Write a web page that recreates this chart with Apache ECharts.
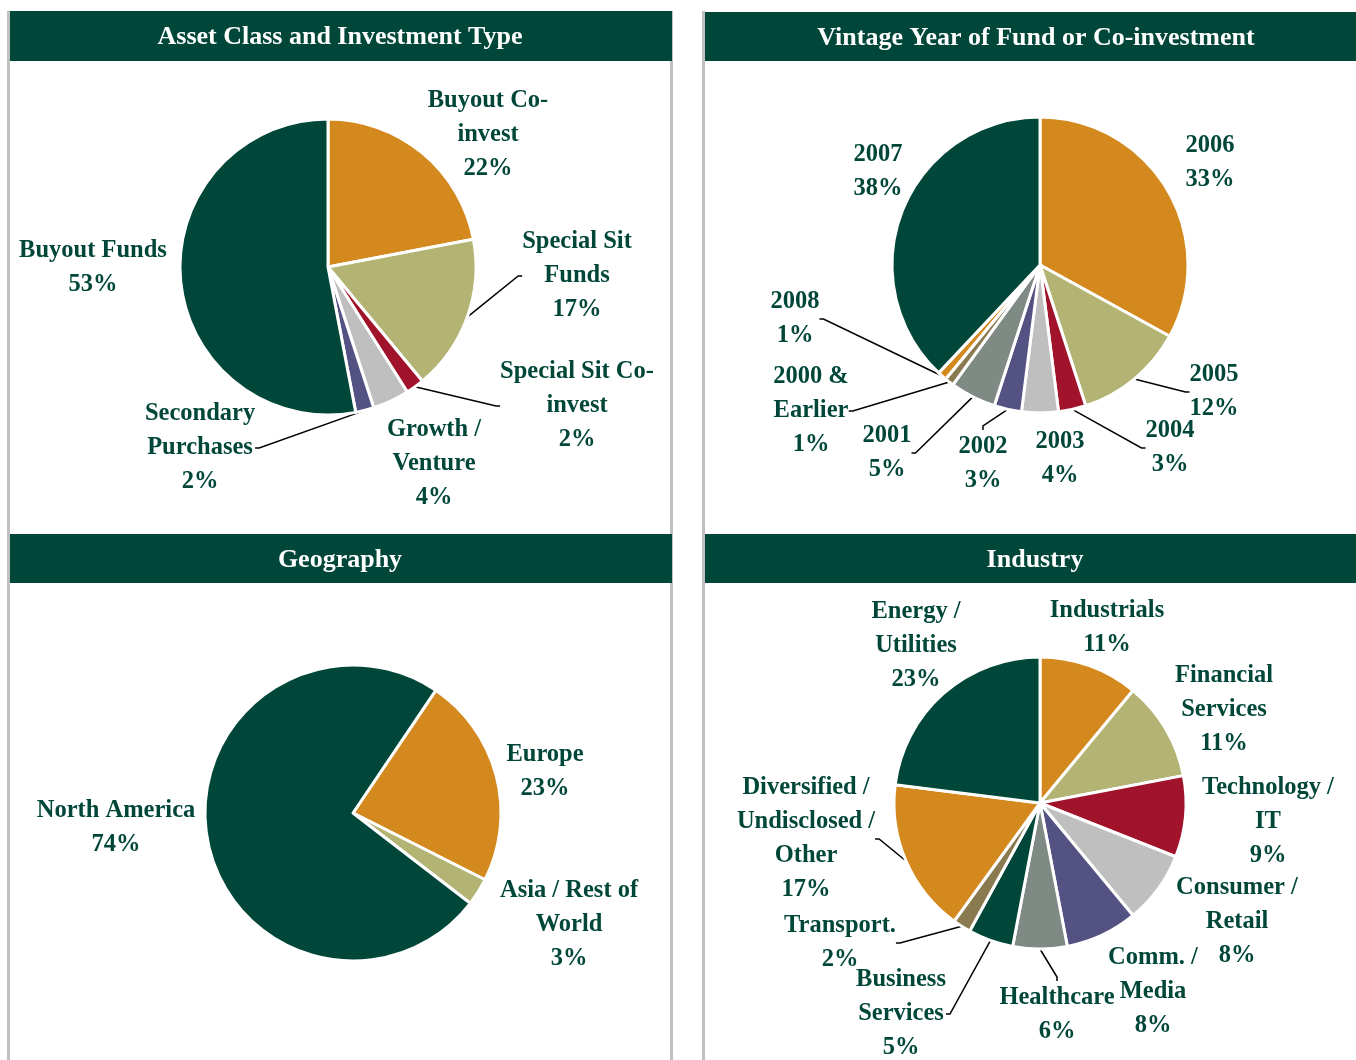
<!DOCTYPE html>
<html>
<head>
<meta charset="utf-8">
<script src="https://cdn.jsdelivr.net/npm/echarts@6/dist/echarts.min.js"></script>
<style>
  html, body { margin: 0; padding: 0; background: #fff; }
  #chart { width: 1356px; height: 1060px; }
</style>
</head>
<body>
<div id="chart"></div>
<script>
// panel titles
const panelTitles = ['Asset Class and Investment Type', 'Vintage Year of Fund or Co-investment', 'Geography', 'Industry'];

// asset class / investment type (clockwise from 12 o'clock)
const assetNames = ['Buyout Co-\ninvest', 'Special Sit\nFunds', 'Special Sit Co-\ninvest', 'Growth /\nVenture', 'Secondary\nPurchases', 'Buyout Funds'];
const assetValues = [22, 17, 2, 4, 2, 53];

// vintage year
const vintageNames = ['2006', '2005', '2004', '2003', '2002', '2001', '2000 &\nEarlier', '2008', '2007'];
const vintageValues = [33, 12, 3, 4, 3, 5, 1, 1, 38];

// geography
const geoNames = ['Europe', 'Asia / Rest of\nWorld', 'North America'];
const geoValues = [23, 3, 74];

// industry
const industryNames = ['Industrials', 'Financial\nServices', 'Technology /\nIT', 'Consumer /\nRetail', 'Comm. /\nMedia',
  'Healthcare', 'Business\nServices', 'Transport.', 'Diversified /\nUndisclosed /\nOther', 'Energy /\nUtilities'];
const industryValues = [11, 11, 9, 8, 8, 6, 5, 2, 17, 23];

// colours
const C = {
  green: '#00473a', orange: '#d4891e', khaki: '#b3b373', red: '#a0132b',
  lgray: '#bfbfbf', purple: '#535282', gray: '#7e8a83', brown: '#8a7a50'
};
const assetColors = [C.orange, C.khaki, C.red, C.lgray, C.purple, C.green];
const vintageColors = [C.orange, C.khaki, C.red, C.lgray, C.purple, C.gray, C.brown, C.orange, C.green];
const geoColors = [C.orange, C.khaki, C.green];
const industryColors = [C.orange, C.khaki, C.red, C.lgray, C.purple, C.gray, C.green, C.brown, C.orange, C.green];

// label placement (centre of each label block) and which labels get leader lines
const assetLabelPos = [[488, 135], [577, 276], [577, 406], [434, 464], [200, 448], [93, 268]];
const assetLines = [false, true, true, false, true, false];
const vintageLabelPos = [[1210, 163], [1214, 392], [1170, 448], [1060, 459], [983, 464], [887, 453], [811, 411], [795, 319], [878, 172]];
const vintageLines = [false, true, true, false, true, true, true, true, false];
const geoLabelPos = [[545, 772], [569, 925], [116, 828]];
const geoLines = [false, false, false];
const industryLabelPos = [[1107, 628], [1224, 710], [1268, 822], [1237, 922], [1153, 992], [1057, 1015], [901, 1014], [840, 943], [806, 839], [916, 646]];
const industryLines = [false, false, false, false, false, true, true, true, true, false];

const labelFont = {
  fontFamily: 'Liberation Serif, Times New Roman, serif',
  fontWeight: 'bold', fontSize: 24.5, lineHeight: 34, color: C.green
};

function pieSeries(names, values, colors, pos, lines, center, radius, startAngle) {
  return {
    type: 'pie',
    center: center,
    radius: radius,
    startAngle: startAngle,
    clockwise: true,
    avoidLabelOverlap: false,
    animation: false,
    itemStyle: { borderColor: '#fff', borderWidth: 3 },
    label: Object.assign({
      show: true, position: 'outside', align: 'center',
      formatter: p => p.name + '\n' + p.value + '%'
    }, labelFont),
    labelLine: { show: true, length: 8, length2: 4, lineStyle: { color: '#000', width: 1.5 } },
    emphasis: { disabled: true },
    labelLayout: p => ({
      x: pos[p.dataIndex][0], y: pos[p.dataIndex][1],
      align: 'center', verticalAlign: 'middle'
    }),
    data: names.map((n, i) => ({
      name: n, value: values[i],
      itemStyle: { color: colors[i] },
      labelLine: { show: lines[i] }
    }))
  };
}

const headers = [
  { x: 10, y: 11, w: 662, h: 50, cx: 340, cy: 36 },
  { x: 705, y: 12, w: 651, h: 49, cx: 1036, cy: 37 },
  { x: 10, y: 534, w: 662, h: 49, cx: 340, cy: 559 },
  { x: 705, y: 534, w: 651, h: 49, cx: 1035, cy: 559 }
];

const graphics = [];
[8.5, 671.5, 703.5].forEach(x => {
  graphics.push({ type: 'line', shape: { x1: x, y1: 11, x2: x, y2: 1060 }, style: { stroke: '#c0c0c0', lineWidth: 3 }, z: 0 });
});
headers.forEach(h => {
  graphics.push({ type: 'rect', shape: { x: h.x, y: h.y, width: h.w, height: h.h }, style: { fill: C.green }, z: 1 });
});

const chart = echarts.init(document.getElementById('chart'));
chart.setOption({
  backgroundColor: '#fff',
  animation: false,
  title: panelTitles.map((t, i) => ({
    text: t,
    left: headers[i].cx, top: headers[i].cy - 12,
    padding: 0,
    textAlign: 'center',
    textStyle: { color: '#fff', fontFamily: 'Liberation Serif, Times New Roman, serif', fontWeight: 'bold', fontSize: 26 }
  })),
  graphic: graphics,
  series: [
    pieSeries(assetNames, assetValues, assetColors, assetLabelPos, assetLines, [328, 267], 148, 90),
    pieSeries(vintageNames, vintageValues, vintageColors, vintageLabelPos, vintageLines, [1040, 265], 148, 90),
    pieSeries(geoNames, geoValues, geoColors, geoLabelPos, geoLines, [353, 813], 148, 56),
    pieSeries(industryNames, industryValues, industryColors, industryLabelPos, industryLines, [1040, 803], 146, 90)
  ]
});
</script>
</body>
</html>
